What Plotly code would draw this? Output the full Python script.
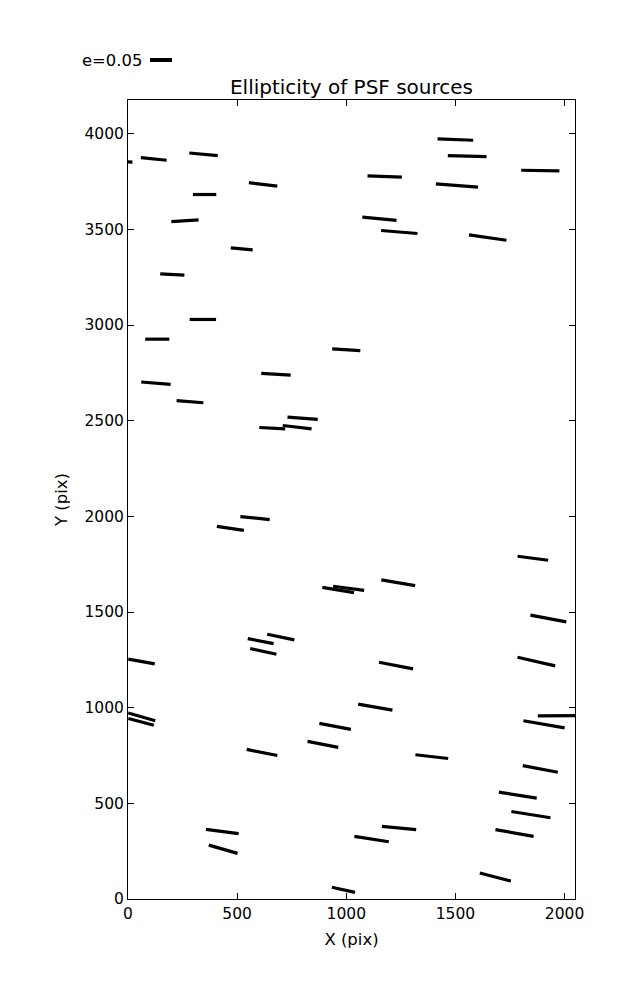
import numpy as np
import plotly.graph_objects as go

# Source positions (pix), ellipticity and position angle (deg)
src_x = [-35, 118, 346, 619, 351, 261, 521, 203, 343, 134, 1000, 1500, 1554, 1889,
         1176, 1507, 1152, 1243, 1648, 128, 284, 678, 661, 800, 775, 469, 582, 963,
         1011, 1238, 1855, 1926, 608, 700, 620, 62, 63, 60, 949, 893, 614, 432, 436,
         987, 1228, 1871, 1133, 1964, 1906, 1392, 1889, 1786, 1846, 1771, 1242, 1116, 1683]
src_y = [3855, 3868, 3892, 3735, 3682, 3545, 3398, 3264, 3029, 2926, 2871, 3969, 3883, 3807,
         3776, 3729, 3555, 3486, 3457, 2696, 2599, 2743, 2461, 2513, 2466, 1937, 1991, 1615,
         1624, 1653, 1781, 1466, 1348, 1369, 1294, 1241, 952, 926, 902, 808, 766, 353, 260,
         48, 1220, 1241, 1003, 958, 913, 744, 680, 543, 441, 345, 371, 313, 115]
src_e = [0.055, 0.059, 0.065, 0.065, 0.053, 0.062, 0.050, 0.055, 0.060, 0.055, 0.064, 0.081,
         0.088, 0.087, 0.078, 0.096, 0.078, 0.083, 0.086, 0.067, 0.061, 0.067, 0.059, 0.069,
         0.066, 0.062, 0.067, 0.073, 0.071, 0.078, 0.070, 0.083, 0.060, 0.063, 0.061, 0.061,
         0.064, 0.060, 0.073, 0.071, 0.071, 0.075, 0.068, 0.054, 0.079, 0.088, 0.079, 0.086,
         0.095, 0.075, 0.081, 0.087, 0.090, 0.088, 0.078, 0.079, 0.073]
src_theta = [-3, -5.9, -5.4, -6.7, 0, 3.6, -5.3, -3.1, 0, 0, -3.5, -2.1, -1.5, -1.0, -2.2,
             -4.5, -5.5, -4.7, -8.1, -4.5, -4.3, -3.3, -2.9, -4.3, -6.5, -8.4, -5.8, -9.5,
             -7.4, -9.5, -7.4, -10.6, -11.0, -11.9, -12.4, -10.1, -15.9, -14.8, -10.7, -11.1,
             -11.1, -7.5, -16.1, -12.3, -11.1, -13.0, -9.9, 0.5, -9.7, -6.5, -10.8, -9.0,
             -9.2, -9.9, -5.5, -8.8, -14.5]

key_e = 0.05
key_label = "e=0.05"

# the page body has an 8px margin, so the figure is a bit smaller than the window
PAGE_OFF = 8
W, H = 637 - PAGE_OFF, 1000 - PAGE_OFF
ML, MR, MT, MB = 128 - PAGE_OFF, 62, 100 - PAGE_OFF, 101
XMAX, YMAX = 2048, 4176
plot_w = W - ML - MR
plot_h = H - MT - MB
px_x = plot_w / XMAX
px_y = plot_h / YMAX
E_SCALE = 440.0  # pixels of whisker per unit ellipticity

xs, ys = [], []
for x, y, e, t in zip(src_x, src_y, src_e, src_theta):
    half = e * E_SCALE / 2.0
    th = np.deg2rad(t)
    dx = half * np.cos(th) / px_x
    dy = half * np.sin(th) / px_y
    xs += [x - dx, x + dx, None]
    ys += [y - dy, y + dy, None]

fig = go.Figure()
fig.add_trace(go.Scatter(x=xs, y=ys, mode="lines",
                         line=dict(color="black", width=3.2),
                         hoverinfo="skip", showlegend=False))

font = "DejaVu Sans, Liberation Sans, sans-serif"
axis_common = dict(showgrid=False, zeroline=False, showline=True, linecolor="black",
                   linewidth=1, mirror="ticks", ticks="inside", ticklen=6,
                   tickcolor="black", tickwidth=1, automargin=False,
                   tickfont=dict(family=font, size=15.5, color="black"))

fig.update_layout(
    width=W, height=H,
    margin=dict(l=ML, r=MR, t=MT, b=MB),
    paper_bgcolor="white", plot_bgcolor="white",
    title=dict(text="Ellipticity of PSF sources", x=(ML + plot_w / 2) / W, xanchor="center",
               y=1 - (87 - PAGE_OFF) / H, yanchor="middle",
               font=dict(family=font, size=20, color="black")),
    xaxis=dict(range=[0, XMAX], tickvals=[0, 500, 1000, 1500, 2000],
               title=dict(text="X (pix)", font=dict(family=font, size=16.5, color="black"),
                          standoff=11),
               **axis_common),
    yaxis=dict(range=[0, YMAX], tickvals=list(range(0, 4001, 500)),
               title=dict(text="Y (pix)", font=dict(family=font, size=16.5, color="black"),
                          standoff=12),
               **axis_common),
)

# ellipticity key
key_x0 = (150 - 128) / plot_w
key_len = key_e * E_SCALE / plot_w
key_y = (899 - 60) / plot_h
fig.add_shape(type="line", xref="paper", yref="paper", x0=key_x0, x1=key_x0 + key_len,
              y0=key_y, y1=key_y, line=dict(color="black", width=4))
fig.add_annotation(xref="paper", yref="paper", x=key_x0 - 6 / plot_w, y=key_y,
                   xanchor="right", yanchor="middle", showarrow=False, text=key_label,
                   font=dict(family=font, size=16.4, color="black"))

fig.write_html("out.html")
